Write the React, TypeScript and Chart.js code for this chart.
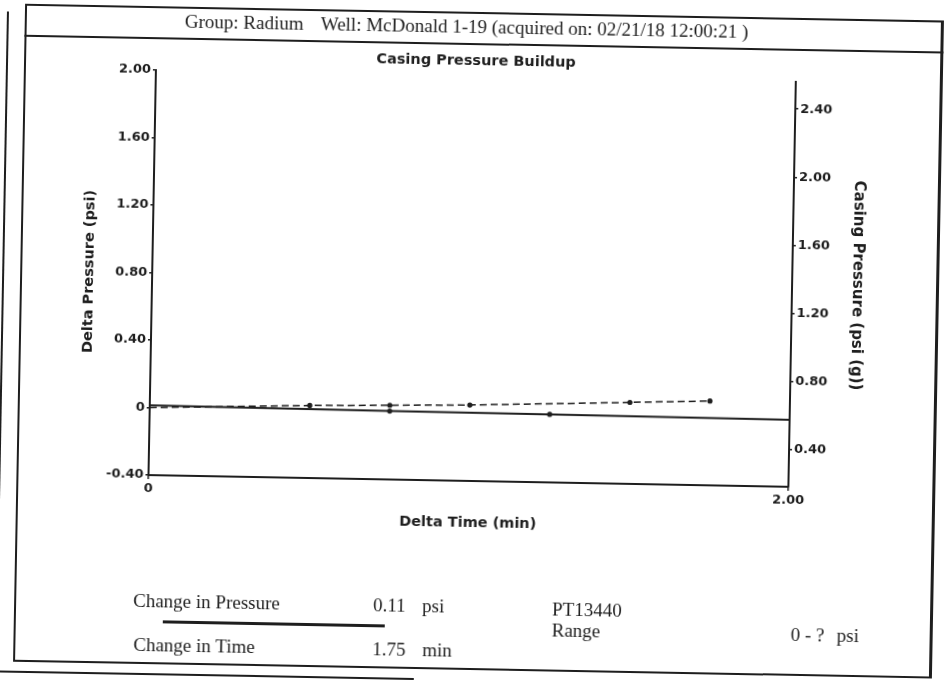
import React, { useEffect, useRef } from 'react';
import { Chart, registerables } from 'chart.js';

Chart.register(...registerables);

// ---- data ----
const deltaTime = [0, 0.5, 0.75, 1.0, 1.5, 1.75];
const deltaPressure = [0, 0.03, 0.04, 0.05, 0.083, 0.1];
const casingTime = [0, 0.75, 1.25, 2.0];
const casingPressure = [0.59, 0.582, 0.58, 0.574];
const leftTicks = [-0.4, 0, 0.4, 0.8, 1.2, 1.6, 2.0];
const rightTicks = [0.4, 0.8, 1.2, 1.6, 2.0, 2.4];
const timeTicks = [0, 2];

const INK = '#1e1e1e';
const SANS = "'DejaVu Sans', 'Liberation Sans', sans-serif";
const SERIF = "'Liberation Serif', 'Times New Roman', serif";

const fmt = (v: number) => (Math.abs(v) < 1e-9 ? '0' : v.toFixed(2));

export default function App() {
  const canvasRef = useRef<HTMLCanvasElement | null>(null);

  useEffect(() => {
    const canvas = canvasRef.current;
    if (!canvas) return;
    const tickFont = { family: SANS, weight: 'bold' as const, size: 13 };
    const titleFont = { family: SANS, weight: 'bold' as const, size: 14.5 };
    const chart = new Chart(canvas, {
      type: 'line',
      data: {
        datasets: [
          {
            label: 'Delta Pressure',
            data: deltaTime.map((t, i) => ({ x: t, y: deltaPressure[i] })),
            yAxisID: 'y',
            borderColor: INK,
            backgroundColor: INK,
            borderWidth: 1.5,
            borderDash: [7, 4],
            pointRadius: (ctx: any) => (ctx.dataIndex === 0 ? 0 : 2.6),
            pointBorderWidth: 0,
            pointBackgroundColor: INK,
            tension: 0,
            fill: false,
          },
          {
            label: 'Casing Pressure',
            data: casingTime.map((t, i) => ({ x: t, y: casingPressure[i] })),
            yAxisID: 'y1',
            borderColor: INK,
            backgroundColor: INK,
            borderWidth: 2,
            pointRadius: (ctx: any) =>
              ctx.dataIndex === 0 || ctx.dataIndex === casingTime.length - 1 ? 0 : 2.6,
            pointBorderWidth: 0,
            pointBackgroundColor: INK,
            tension: 0,
            fill: false,
          },
        ],
      },
      options: {
        animation: false,
        responsive: false,
        events: [],
        layout: { padding: { left: 70, right: 77, top: 76, bottom: 147 } },
        plugins: { legend: { display: false }, tooltip: { enabled: false }, title: { display: false } },
        scales: {
          x: {
            type: 'linear',
            min: 0,
            max: 2,
            afterBuildTicks: (s: any) => {
              s.ticks = timeTicks.map((v) => ({ value: v }));
            },
            afterFit: (s: any) => {
              s.height = 55;
            },
            ticks: {
              callback: (v: any) => fmt(Number(v)),
              font: tickFont,
              color: INK,
              padding: 2,
              maxRotation: 0,
              autoSkip: false,
            },
            grid: { drawOnChartArea: false, drawTicks: true, tickLength: 4, color: INK, lineWidth: 1.5 },
            border: { display: true, color: INK, width: 2 },
            title: {
              display: true,
              text: 'Delta Time (min)',
              font: titleFont,
              color: INK,
              padding: { top: 0, bottom: 4 },
            },
          },
          y: {
            type: 'linear',
            position: 'left',
            min: -0.4,
            max: 2.0,
            afterBuildTicks: (s: any) => {
              s.ticks = leftTicks.map((v) => ({ value: v }));
            },
            afterFit: (s: any) => {
              s.width = 81;
            },
            ticks: { callback: (v: any) => fmt(Number(v)), font: tickFont, color: INK, padding: 2 },
            grid: { drawOnChartArea: false, drawTicks: true, tickLength: 3, color: INK, lineWidth: 1.5 },
            border: { display: true, color: INK, width: 2 },
            title: {
              display: true,
              text: 'Delta Pressure (psi)',
              font: titleFont,
              color: INK,
              padding: { top: 10, bottom: 0 },
            },
          },
          y1: {
            type: 'linear',
            position: 'right',
            min: 0.18,
            max: 2.56,
            afterBuildTicks: (s: any) => {
              s.ticks = rightTicks.map((v) => ({ value: v }));
            },
            afterFit: (s: any) => {
              s.width = 78;
            },
            ticks: { callback: (v: any) => fmt(Number(v)), font: tickFont, color: INK, padding: 2 },
            grid: { drawOnChartArea: false, drawTicks: true, tickLength: 3, color: INK, lineWidth: 1.5 },
            border: { display: true, color: INK, width: 2 },
            title: {
              display: true,
              text: 'Casing Pressure (psi (g))',
              font: { family: SANS, weight: 'bold' as const, size: 15 },
              color: INK,
              padding: { top: 4, bottom: 0 },
            },
          },
        },
      },
    } as any);
    return () => chart.destroy();
  }, []);

  const serif: React.CSSProperties = {
    position: 'absolute',
    fontFamily: SERIF,
    fontSize: 19,
    lineHeight: '22px',
    color: INK,
    whiteSpace: 'nowrap',
  };
  const line = (l: number, t: number, w: number, h: number): React.CSSProperties => ({
    position: 'absolute',
    left: l,
    top: t,
    width: w,
    height: h,
    background: INK,
  });

  return (
    <div
      style={{
        position: 'fixed',
        left: 0,
        top: 0,
        width: 946,
        height: 683,
        overflow: 'hidden',
        background: '#fff',
      }}
    >
      <div
        style={{
          position: 'absolute',
          left: 0,
          top: 0,
          width: 946,
          height: 683,
          transform: 'rotate(1.05deg)',
          transformOrigin: '473px 341px',
        }}
      >
        {/* page frame */}
        <div
          style={{
            position: 'absolute',
            left: 19,
            top: 12,
            width: 919,
            height: 658,
            boxSizing: 'border-box',
            borderTop: `2px solid ${INK}`,
            borderLeft: `2px solid ${INK}`,
            borderBottom: `2px solid ${INK}`,
            borderRight: `3px solid ${INK}`,
          }}
        />
        <div style={line(19, 43, 919, 2)} />
        <div style={line(0, 679, 420, 2)} />
        <div style={line(1, 20, 2, 490)} />

        <canvas
          ref={canvasRef}
          width={946}
          height={683}
          style={{ position: 'absolute', left: 0, top: 0, width: 946, height: 683 }}
        />

        {/* header */}
        <div style={{ ...serif, left: 179, top: 16 }}>Group: Radium</div>
        <div style={{ ...serif, left: 315, top: 16 }}>
          Well: McDonald 1-19 (acquired on: 02/21/18 12:00:21 )
        </div>

        {/* chart title */}
        <div
          style={{
            position: 'absolute',
            left: 0,
            width: 942,
            top: 51,
            textAlign: 'center',
            fontFamily: SANS,
            fontWeight: 'bold',
            fontSize: 14.5,
            lineHeight: '18px',
            color: INK,
            whiteSpace: 'nowrap',
          }}
        >
          Casing Pressure Buildup
        </div>

        {/* summary */}
        <div style={{ ...serif, left: 138, top: 596 }}>Change in Pressure</div>
        <div style={{ ...serif, left: 378, top: 596 }}>0.11</div>
        <div style={{ ...serif, left: 427, top: 596 }}>psi</div>
        <div style={line(168, 626, 222, 3)} />
        <div style={{ ...serif, left: 557, top: 597 }}>PT13440</div>
        <div style={{ ...serif, left: 557, top: 618 }}>Range</div>
        <div style={{ ...serif, left: 139, top: 640 }}>Change in Time</div>
        <div style={{ ...serif, left: 378, top: 640 }}>1.75</div>
        <div style={{ ...serif, left: 428, top: 640 }}>min</div>
        <div style={{ ...serif, left: 796, top: 618 }}>0 - ?</div>
        <div style={{ ...serif, left: 842, top: 618 }}>psi</div>
      </div>
    </div>
  );
}
